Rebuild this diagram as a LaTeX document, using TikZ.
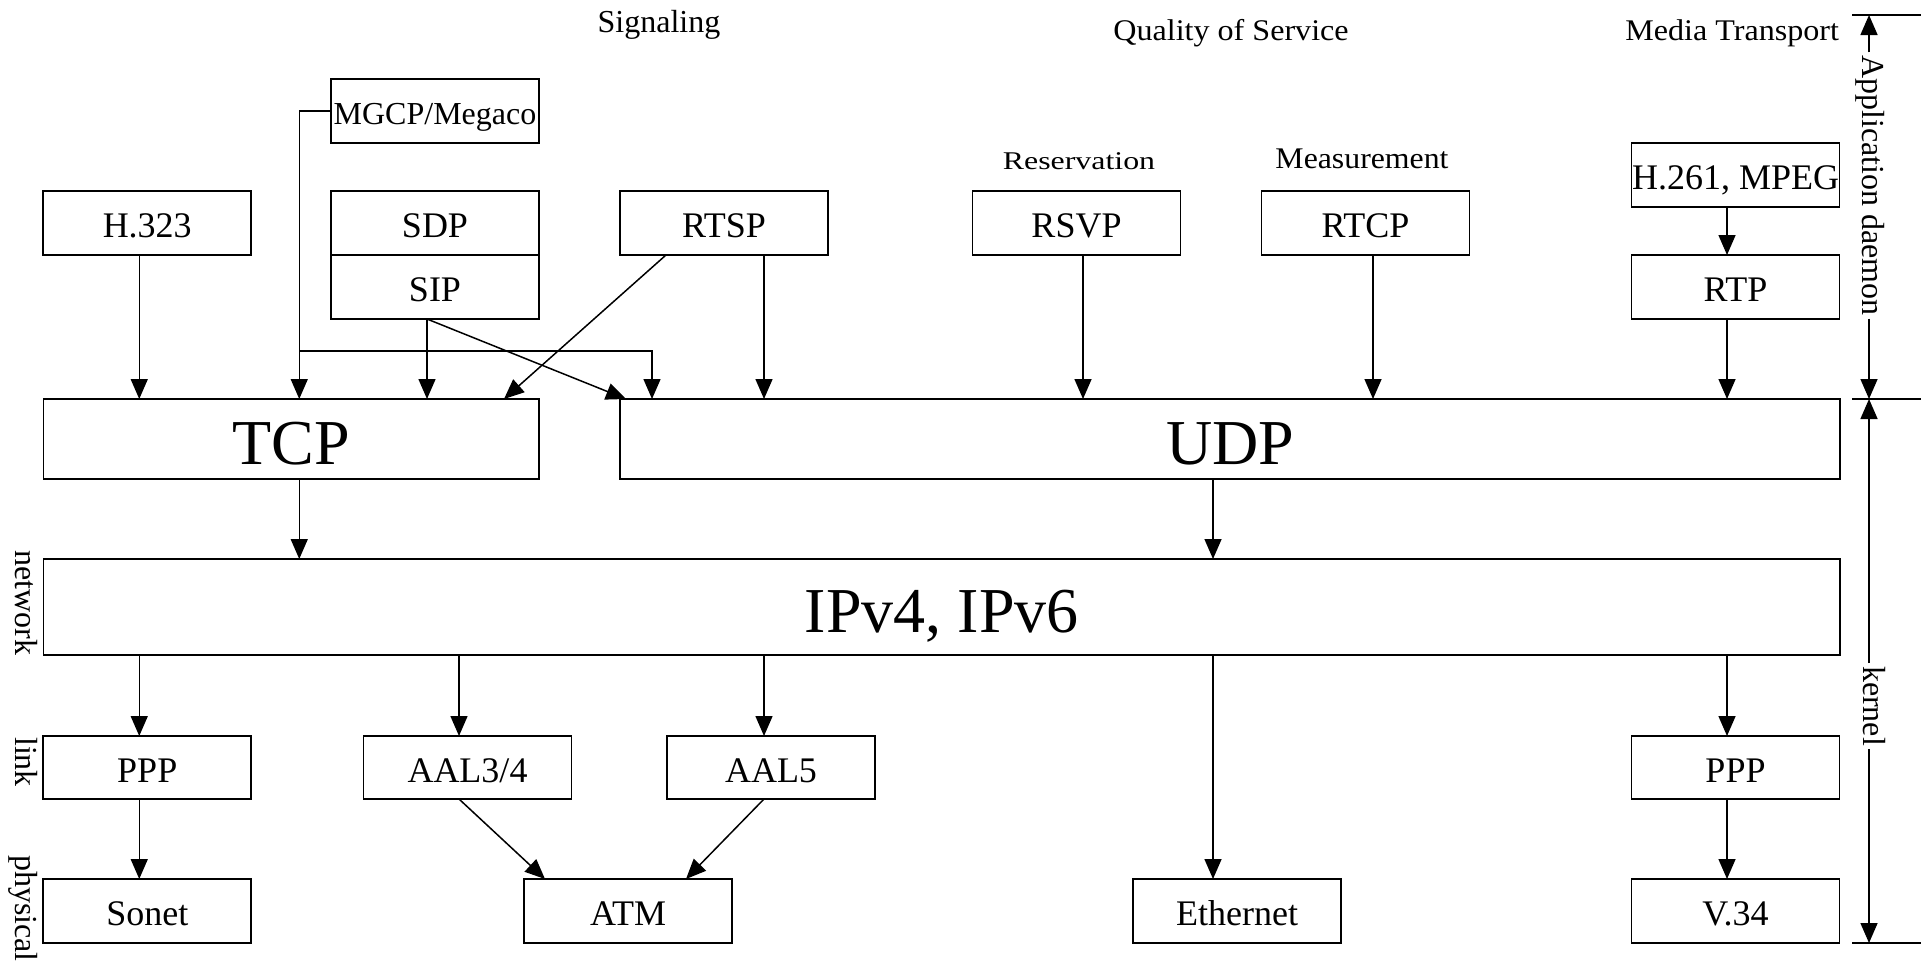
\documentclass[tikz,border=0pt]{standalone}
\usepackage{fontspec}
\setmainfont{Liberation Serif}
\usetikzlibrary{arrows.meta}
\newcommand{\fsz}[1]{\fontsize{#1}{#1}\selectfont}

\begin{document}
\begin{tikzpicture}[x=1pt,y=-1pt,
  every node/.style={inner sep=0pt, outer sep=0pt},
  box/.style={draw, line width=1.8pt, minimum width=208pt, minimum height=64pt,
    font=\fsz{36}, text height=29pt, text depth=0pt},
  widebox/.style={draw, line width=1.8pt, font=\fsz{64}, text height=51pt, text depth=0pt},
  arr/.style={line width=1.5pt, -{Triangle[length=20pt,width=17pt]}},
  tick/.style={line width=1.8pt},
  lab/.style={font=\fsz{32}, anchor=base},
  side/.style={font=\fsz{32}, rotate=-90, anchor=base},
]
\useasboundingbox (0,0) rectangle (1921,964);

% column headings
\node[lab] (sig) at (659,32) {Signaling};
\node[lab, font=\fsz{30}] (qos) at (1231,40) {\scalebox{1.07}[1]{Quality of Service}};
\node[lab, font=\fsz{30}, anchor=base east] (mt) at (1839,40) {\scalebox{1.07}[1]{Media Transport}};
\node[lab, font=\fsz{25.5}] (res) at (1079,169) {\scalebox{1.25}[1]{Reservation}};
\node[lab, font=\fsz{30}] (meas) at (1362,168) {\scalebox{1.06}[1]{Measurement}};

% application protocols
\node[box, font=\fsz{32}, text height=26pt] (mgcp) at (435,111) {MGCP/Megaco};
\node[box] (h323) at (147.25,223) {H.323};
\node[box] (sdp)  at (435,223) {SDP};
\node[box] (sip)  at (435,287) {SIP};
\node[box] (rtsp) at (724,223) {RTSP};
\node[box] (rsvp) at (1076.5,223) {RSVP};
\node[box] (rtcp) at (1365.5,223) {RTCP};
\node[box] (h261) at (1735.5,175) {H.261, MPEG};
\node[box] (rtp)  at (1735.5,287) {RTP};

% transport and network
\node[widebox, minimum width=495.5pt, minimum height=80pt] (tcp) at (291.25,439) {TCP};
\node[widebox, minimum width=1220pt, minimum height=80pt] (udp) at (1230,439) {UDP};
\node[widebox, minimum width=1796.5pt, minimum height=96pt] (ip) at (941.75,607) {IPv4, IPv6};

% link layer
\node[box, minimum height=63pt] (ppp1) at (147.25,767.5) {PPP};
\node[box, minimum height=63pt] (aal34) at (467.5,767.5) {AAL3/4};
\node[box, minimum height=63pt] (aal5) at (771,767.5) {AAL5};
\node[box, minimum height=63pt] (ppp2) at (1735.5,767.5) {PPP};

% physical layer
\node[box] (sonet) at (147.25,911) {Sonet};
\node[box] (atm)   at (628,911) {ATM};
\node[box] (eth)   at (1237,911) {Ethernet};
\node[box] (v34)   at (1735.5,911) {V.34};

% layer names on the left
\node[side] (net) at (16,603) {network};
\node[side] (lnk) at (16,762) {link};
\node[side] (phy) at (16,908.5) {physical};

% connectors: application to transport
\draw[arr] ([xshift=-8pt]h323.south) -- ([xshift=-8pt]h323.south |- tcp.north);
\draw[arr] (mgcp.west) -| ([xshift=8pt]tcp.north);
\coordinate (mj) at (299,351);
\draw[arr] (mj) -| ([xshift=32pt]udp.north west);
\draw[arr] ([xshift=-8pt]sip.south) -- ([xshift=-8pt]sip.south |- tcp.north);
\draw[arr] ([xshift=-8pt]sip.south) -- ([xshift=6pt]udp.north west);
\draw[arr] ([xshift=-58pt]rtsp.south) -- ([xshift=-35pt]tcp.north east);
\draw[arr] ([xshift=40pt]rtsp.south) -- ([xshift=40pt]rtsp.south |- udp.north);
\draw[arr] ([xshift=6.5pt]rsvp.south) -- ([xshift=6.5pt]rsvp.south |- udp.north);
\draw[arr] ([xshift=7.5pt]rtcp.south) -- ([xshift=7.5pt]rtcp.south |- udp.north);
\draw[arr] ([xshift=-8.5pt]h261.south) -- ([xshift=-8.5pt]rtp.north);
\draw[arr] ([xshift=-8.5pt]rtp.south) -- ([xshift=-8.5pt]rtp.south |- udp.north);

% transport to network
\draw[arr] ([xshift=8pt]tcp.south) -- ([xshift=8pt]tcp.south |- ip.north);
\draw[arr] ([xshift=-17pt]udp.south) -- ([xshift=-17pt]udp.south |- ip.north);

% network to link / physical
\draw[arr] ([xshift=-8pt]ppp1.north |- ip.south) -- ([xshift=-8pt]ppp1.north);
\draw[arr] ([xshift=-8.5pt]aal34.north |- ip.south) -- ([xshift=-8.5pt]aal34.north);
\draw[arr] ([xshift=-7pt]aal5.north |- ip.south) -- ([xshift=-7pt]aal5.north);
\draw[arr] ([xshift=-24pt]eth.north |- ip.south) -- ([xshift=-24pt]eth.north);
\draw[arr] ([xshift=-8.5pt]ppp2.north |- ip.south) -- ([xshift=-8.5pt]ppp2.north);

% link to physical
\draw[arr] ([xshift=-8pt]ppp1.south) -- ([xshift=-8pt]sonet.north);
\draw[arr] ([xshift=-8.5pt]aal34.south) -- ([xshift=-83pt]atm.north);
\draw[arr] ([xshift=-7pt]aal5.south) -- ([xshift=58pt]atm.north);
\draw[arr] ([xshift=-8.5pt]ppp2.south) -- ([xshift=-8.5pt]v34.north);

% extent markers on the right
\coordinate (dt) at (1869,15);
\coordinate (dm) at (1869,399);
\coordinate (db) at (1869,943);
\coordinate (tl) at (1852,15);  \coordinate (tr) at (1921,15);
\coordinate (ml) at (1852,399); \coordinate (mr) at (1921,399);
\coordinate (bl) at (1852,943); \coordinate (br) at (1921,943);
\draw[tick] (tl) -- (tr);
\draw[tick] (ml) -- (mr);
\draw[tick] (bl) -- (br);

\node[side, inner sep=3pt] (appd) at (1862,185.5) {Application daemon};
\node[side, inner sep=3pt] (kern) at (1863,706) {kernel};
\draw[arr] (appd.west -| dt) -- (dt);
\draw[arr] (appd.east -| dt) -- (dm);
\draw[arr] (kern.west -| dt) -- (dm);
\draw[arr] (kern.east -| dt) -- (db);
\end{tikzpicture}
\end{document}
